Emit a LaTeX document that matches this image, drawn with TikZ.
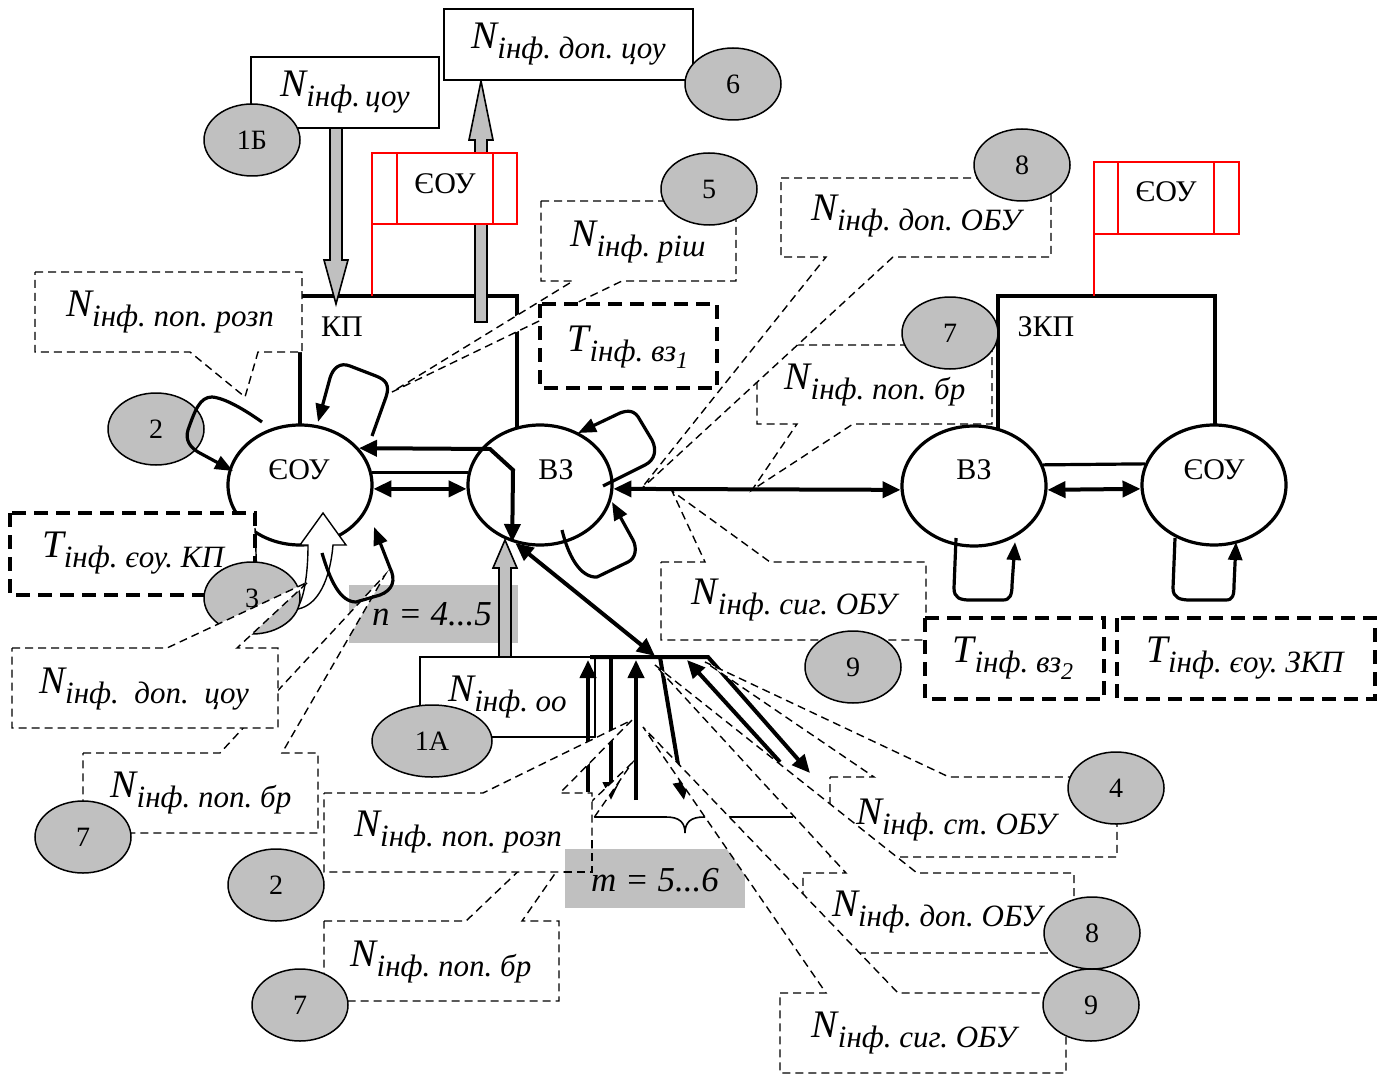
\documentclass[tikz,border=0pt]{standalone}
\usepackage{fontspec}
\setmainfont{Liberation Serif}
\usetikzlibrary{shapes.geometric,arrows.meta}
\definecolor{lgray}{RGB}{192,192,192}
\newcommand{\lab}[2]{{\fontsize{19.5}{20}\selectfont\itshape #1}\raisebox{-5pt}{\fontsize{15.5}{16}\selectfont\itshape #2}}
\newcommand{\subone}[1]{\raisebox{-3.5pt}{\fontsize{12}{12}\selectfont #1}}
\begin{document}
\begin{tikzpicture}[x=0.5pt,y=-0.5pt,
  bubble/.style={ellipse,draw,line width=0.75pt,fill=lgray,minimum width=48pt,minimum height=36pt,inner sep=0pt,font=\fontsize{14}{14}\selectfont},
  bigc/.style={ellipse,draw,line width=1.6pt,fill=white,minimum width=72pt,minimum height=60pt,inner sep=0pt},
  cpoly/.style={draw,fill=white,line width=0.7pt,dash pattern=on 4pt off 2.5pt},
  cline/.style={line width=0.7pt,dash pattern=on 4pt off 2.5pt},
  tbox/.style={draw,fill=white,line width=1.8pt,dash pattern=on 7pt off 4pt},
  sbox/.style={draw,fill=white,line width=0.8pt,inner sep=0pt},
  redbox/.style={draw=red,fill=white,line width=0.8pt},
  garrow/.style={draw=black,fill=lgray,line width=0.8pt},
  kframe/.style={line width=1.6pt},
  arr/.style={line width=2pt,-{Triangle[length=9pt,width=8pt]}},
  darr/.style={line width=2pt,{Triangle[length=9pt,width=8pt]}-{Triangle[length=9pt,width=8pt]}},
  loopa/.style={line width=1.6pt,line join=round,-{Triangle[length=9pt,width=7pt]}},
  txt/.style={inner sep=0pt},
  lbl/.style={inner sep=0pt,font=\fontsize{15}{15}\selectfont},
  itxt/.style={inner sep=0pt,font=\fontsize{17.5}{18}\selectfont\itshape},
]
\useasboundingbox (0,0) rectangle (1385,1075);
\fill[white] (0,0) rectangle (1385,1075);

% gray range rectangle n
\node[fill=lgray,minimum width=84.5pt,minimum height=29pt,inner sep=0pt,anchor=north west] (nrect) at (349,585) {};

% frames KP and ZKP
\draw[kframe] (300,428) -- (300,296) -- (517,296) -- (517,430);
\draw[red,line width=0.8pt] (372,224) -- (372,296);
\draw[kframe] (998,432) -- (998,296) -- (1215,296) -- (1215,428);
\draw[red,line width=0.8pt] (1094,234) -- (1094,296);

% gray block arrows
\draw[garrow] (330,128) -- (342,128) -- (342,260) -- (348,260) -- (336,304) -- (324,260) -- (330,260) -- cycle;
\draw[garrow] (475,322) -- (487,322) -- (487,140) -- (493,140) -- (481,81) -- (469,140) -- (475,140) -- cycle;
\draw[garrow] (499,657) -- (511,657) -- (511,568) -- (517,568) -- (505,540) -- (493,568) -- (499,568) -- cycle;

% red boxes
\draw[redbox] (372,153) rectangle (517,224);
\draw[red,line width=0.8pt] (397,153) -- (397,224) (493,153) -- (493,224);
\node[lbl] (eoyKP) at (445,184) {ЄОУ};
\draw[redbox] (1094,162) rectangle (1239,234);
\draw[red,line width=0.8pt] (1118,162) -- (1118,234) (1214,162) -- (1214,234);
\node[lbl] (eoyZKP) at (1166,192) {ЄОУ};

% solid boxes
\node[sbox,minimum width=94pt,minimum height=35.5pt] (bcoy) at (345,92.5) {\lab{N}{інф.\,цоу}};
\node[sbox,minimum width=124.5pt,minimum height=35.5pt] (bdopcoy) at (568.5,44.5) {\lab{N}{інф.\ доп.\ цоу}};
\node[sbox,minimum width=87.5pt,minimum height=40pt] (boo) at (507.5,697) {\lab{N}{інф.\ оо}};

% labels of frames
\node[lbl] (kpT) at (342,327) {КП};
\node[lbl] (zkpT) at (1046,327) {ЗКП};

% circles
\node[bigc] (eoy) at (300,485) {};
\node[lbl] (eoyT) at (299,470) {ЄОУ};
\node[bigc] (vz) at (540,485) {};
\node[lbl] (vzT) at (556,470) {ВЗ};
\node[bigc] (vzR) at (974,486) {};
\node[lbl] (vzRT) at (974,470) {ВЗ};
\node[bigc] (eoyR) at (1214,485) {};
\node[lbl] (eoyRT) at (1214,470) {ЄОУ};

% T box KP, white curved arrow, bubble 3
\draw[tbox] (10,513) rectangle (255,595);
\node[txt] (tKP) at (133,553) {\lab{T}{інф.\ єоу.\ КП}};
\draw[line width=0.7pt] (255,528) -- (257,578);
\draw[line width=0.7pt,fill=white] (298,609) .. controls (318,605) and (330,580) .. (333,545) -- (346,545) -- (323,513) -- (300,545) -- (308,545) .. controls (308,570) and (305,595) .. (298,607) -- cycle;
\node[bubble] (e3) at (252,598) {3};

% bus and its arrows
\coordinate (busL) at (590,657);
\coordinate (busR) at (708,657);
\coordinate (busA) at (655,656);
\draw[darr] (vz.247) -- (busA);
\draw[arr,line join=miter] (busL) -- (busR) -- (810,773);
\draw[arr] (780,762) -- (687,660);
\draw[arr] (588,792) -- (588,660);
\draw[arr] (611,657) -- (611,800);
\draw[arr] (636,800) -- (636,660);
\draw[arr] (660,657) -- (684,800);
\draw[line width=0.8pt] (593,817) -- (666,817) .. controls (679,817) and (685,822) .. (685,833) .. controls (685,822) and (691,817) .. (704,817) -- (793,817);

% callouts
\draw[cpoly] (757,345) -- (992,345) -- (992,424) -- (853,424) -- (752,490) -- (797,424) -- (757,424) -- cycle;
\node[txt] (tpopbrR) at (875,385) {\lab{N}{інф.\ поп.\ бр}};
\draw[cpoly] (781,178) -- (1051,178) -- (1051,257) -- (893,257) -- (640,490) -- (826,257) -- (781,257) -- cycle;
\node[txt] (tdopOBUa) at (916,216) {\lab{N}{інф.\ доп.\ ОБУ}};
\draw[cpoly] (541,201) -- (736,201) -- (736,281) -- (622,281) -- (392,392) -- (573,281) -- (541,281) -- cycle;
\node[txt] (trish) at (638,242) {\lab{N}{інф.\ ріш}};
\draw[cpoly] (35,272) -- (302,272) -- (302,352) -- (258,352) -- (245,397) -- (190,352) -- (35,352) -- cycle;
\node[txt] (trozpU) at (170,312) {\lab{N}{інф.\ поп.\ розп}};
\draw[cpoly] (661,562) -- (705,562) -- (672,491) -- (770,562) -- (926,562) -- (926,640) -- (661,640) -- cycle;
\node[txt] (tsygM) at (794,600) {\lab{N}{інф.\ сиг.\ ОБУ}};
\draw[cpoly] (83,753) -- (220,753) -- (385,575) -- (282,753) -- (318,753) -- (318,833) -- (83,833) -- cycle;
\node[txt] (tpopbrL) at (201,793) {\lab{N}{інф.\ поп.\ бр}};
\draw[cpoly] (12,648) -- (167,648) -- (308,582) -- (237,648) -- (278,648) -- (278,728) -- (12,728) -- cycle;
\node[txt] (tdopcoyL) at (144,689) {\lab{N}{інф.\ \ доп.\ \ цоу}};
\draw[cpoly] (324,921) -- (466,921) -- (632,763) -- (522,921) -- (559,921) -- (559,1001) -- (324,1001) -- cycle;
\node[txt] (tpopbrLow) at (441,962) {\lab{N}{інф.\ поп.\ бр}};
\draw[cpoly] (324,793) -- (483,793) -- (632,720) -- (560,793) -- (592,793) -- (592,872) -- (324,872) -- cycle;
\node[txt] (trozpLow) at (458,832) {\lab{N}{інф.\ поп.\ розп}};
\node[fill=lgray,minimum width=90pt,minimum height=29.5pt,inner sep=0pt,anchor=north west] (mrect) at (565,849) {};
\draw[cline] (592,840) -- (592,872) -- (560,872);
\node[itxt] (mtext) at (655,880) {m = 5...6};
\draw[cpoly] (830,777) -- (874,777) -- (705,662) -- (949,777) -- (1117,777) -- (1117,857) -- (830,857) -- cycle;
\node[txt] (tstOBU) at (956,820) {\lab{N}{інф.\ ст.\ ОБУ}};
\draw[cpoly] (803,873) -- (846,873) -- (655,665) -- (917,873) -- (1074,873) -- (1074,953) -- (803,953) -- cycle;
\node[txt] (tdopOBUb) at (937,912) {\lab{N}{інф.\ доп.\ ОБУ}};
\draw[cpoly] (780,993) -- (826,993) -- (643,727) -- (898,993) -- (1066,993) -- (1066,1073) -- (780,1073) -- cycle;
\node[txt] (tsygLow) at (914,1033) {\lab{N}{інф.\ сиг.\ ОБУ}};

\node[itxt] (ntext) at (432,614) {n = 4...5};

% T boxes
\draw[tbox] (540,304) rectangle (717,388);
\node[txt] (tvz1) at (628,347) {\lab{T}{інф.\ вз\subone{1}}};
\draw[tbox] (925,618) rectangle (1104,699);
\node[txt] (tvz2) at (1013,658) {\lab{T}{інф.\ вз\subone{2}}};
\draw[tbox] (1117,618) rectangle (1375,699);
\node[txt] (tZKP) at (1245,658) {\lab{T}{інф.\ єоу.\ ЗКП}};

% bubble 2 under its loop
\node[bubble] (e2a) at (156,429) {2};

% connections between circles
\draw[darr] (eoy.-3) -- (vz.183);
\draw[kframe] (eoy.10) -- (vz.170);
\coordinate (vzin) at (490,449);
\coordinate (vzin2) at (513,470);
\draw[darr,line join=miter] (eoy.32) -- (vzin) -- (vzin2) -- (vz.244);
\draw[darr] (vz.-3) -- (vzR.183);
\draw[darr] (vzR.-3) -- (eoyR.183);
\draw[kframe] (vzR.17) -- (eoyR.163);

% self loops
\draw[loopa] (262,422) .. controls (245,410) and (225,398) .. (212,397) .. controls (200,397) and (195,410) .. (188,430) .. controls (185,440) and (190,447) .. (198,452) -- (233,471);
\draw[loopa] (372,436) -- (386,397) .. controls (390,385) and (386,380) .. (376,376) -- (350,366) .. controls (340,362) and (333,368) .. (330,378) -- (318,422);
\draw[loopa] (322,553) .. controls (330,580) and (340,602) .. (356,602) -- (380,595) .. controls (393,590) and (396,580) .. (390,568) -- (374,527);
\draw[loopa] (603,486) -- (645,465) .. controls (655,460) and (657,450) .. (652,440) -- (640,420) .. controls (635,410) and (628,410) .. (620,413) -- (578,433);
\draw[loopa] (562,530) .. controls (568,555) and (580,578) .. (597,577) -- (628,562) .. controls (636,558) and (637,548) .. (633,540) -- (612,502);
\draw[loopa] (956,538) -- (954,588) .. controls (954,598) and (960,600) .. (970,600) -- (1003,600) .. controls (1010,600) and (1012,595) .. (1012,585) -- (1015,542);
\draw[loopa] (1175,538) -- (1173,588) .. controls (1173,598) and (1180,600) .. (1190,600) -- (1226,600) .. controls (1233,600) and (1234,595) .. (1234,585) -- (1236,542);

% numbered bubbles
\node[bubble] (e1b) at (252,140) {1Б};
\node[bubble] (e6) at (733,84) {6};
\node[bubble] (e5) at (709,189) {5};
\node[bubble] (e8a) at (1022,165) {8};
\node[bubble] (e7a) at (950,333) {7};
\node[bubble] (e9a) at (853,667) {9};
\node[bubble,minimum width=60pt] (e1a) at (432,741) {1А};
\node[bubble] (e4) at (1116,788) {4};
\node[bubble] (e7b) at (83,837) {7};
\node[bubble] (e2b) at (276,885) {2};
\node[bubble] (e8b) at (1092,933) {8};
\node[bubble] (e9b) at (1091,1005) {9};
\node[bubble] (e7c) at (300,1005) {7};
\end{tikzpicture}
\end{document}
